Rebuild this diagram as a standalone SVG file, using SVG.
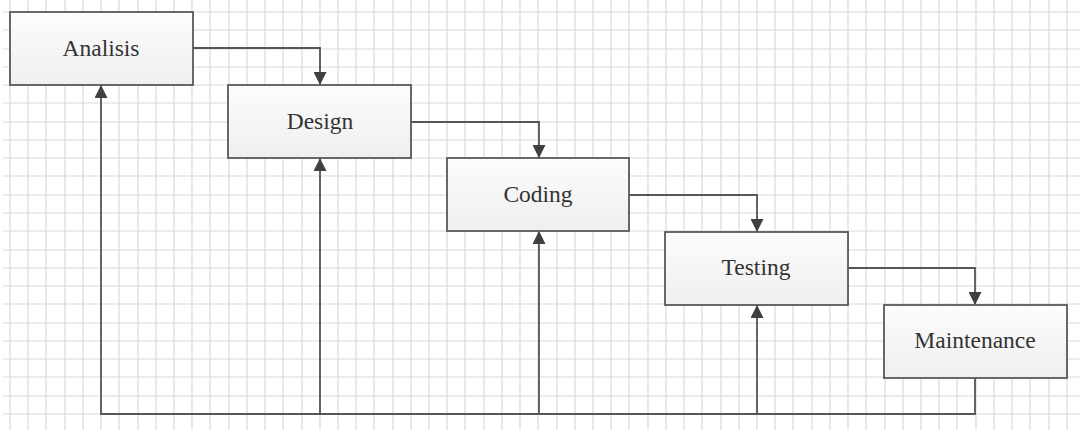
<svg xmlns="http://www.w3.org/2000/svg" width="1088" height="435" viewBox="0 0 1088 435">
<style>
.grid{stroke:#dadada;stroke-width:1.2;fill:none}
.box{fill:url(#boxfill);stroke:#595959;stroke-width:1.8}
.lbl{font-family:"Liberation Serif","Times New Roman",serif;font-size:23.5px;fill:#333;text-anchor:middle}
.con{fill:none;stroke:#555;stroke-width:1.8}
.arr{marker-end:url(#ah)}
</style>
<defs>
<linearGradient id="boxfill" x1="0" y1="0" x2="0" y2="1">
<stop offset="0" stop-color="#fcfcfc"/>
<stop offset="1" stop-color="#efefef"/>
</linearGradient>
<marker id="ah" markerUnits="userSpaceOnUse" markerWidth="13" markerHeight="13" refX="13" refY="6.5" orient="auto">
<path d="M0,0 L13,6.5 L0,13 z" fill="#404040"/>
</marker>
</defs>
<rect width="1088" height="435" fill="#fff"/>
<g id="grid">
<path class="grid" d="M10,0V430M28,0V430M46,0V430M65,0V430M83,0V430M101,0V430M119,0V430M138,0V430M156,0V430M174,0V430M192,0V430M210,0V430M229,0V430M247,0V430M265,0V430M283,0V430M302,0V430M320,0V430M338,0V430M356,0V430M374,0V430M393,0V430M411,0V430M429,0V430M447,0V430M465,0V430M484,0V430M502,0V430M520,0V430M538,0V430M557,0V430M575,0V430M593,0V430M611,0V430M629,0V430M648,0V430M666,0V430M684,0V430M702,0V430M721,0V430M739,0V430M757,0V430M775,0V430M793,0V430M812,0V430M830,0V430M848,0V430M866,0V430M885,0V430M903,0V430M921,0V430M939,0V430M957,0V430M976,0V430M994,0V430M1012,0V430M1030,0V430M1049,0V430M1067,0V430"/>
<path class="grid" d="M3,12H1080M3,30H1080M3,49H1080M3,67H1080M3,85H1080M3,103H1080M3,122H1080M3,140H1080M3,158H1080M3,176H1080M3,195H1080M3,213H1080M3,231H1080M3,250H1080M3,268H1080M3,286H1080M3,304H1080M3,323H1080M3,341H1080M3,359H1080M3,377H1080M3,396H1080M3,414H1080"/>
</g>
<g id="connectors">
<path class="con arr" d="M193,48H320V85"/>
<path class="con arr" d="M411,122H539V158"/>
<path class="con arr" d="M629,195H757V232"/>
<path class="con arr" d="M848,268H975V305"/>
<path class="con arr" d="M975,378V414H101V85"/>
<path class="con arr" d="M320,414V158"/>
<path class="con arr" d="M539,414V231"/>
<path class="con arr" d="M757,414V305"/>
</g>
<g id="analisis">
<rect class="box" x="10" y="12" width="183" height="73"/>
<text class="lbl" x="101" y="56">Analisis</text>
</g>
<g id="design">
<rect class="box" x="228" y="85" width="183" height="73"/>
<text class="lbl" x="320" y="129">Design</text>
</g>
<g id="coding">
<rect class="box" x="447" y="158" width="182" height="73"/>
<text class="lbl" x="538" y="202">Coding</text>
</g>
<g id="testing">
<rect class="box" x="665" y="232" width="183" height="73"/>
<text class="lbl" x="756" y="275">Testing</text>
</g>
<g id="maintenance">
<rect class="box" x="884" y="305" width="183" height="73"/>
<text class="lbl" x="975" y="348">Maintenance</text>
</g>
</svg>
